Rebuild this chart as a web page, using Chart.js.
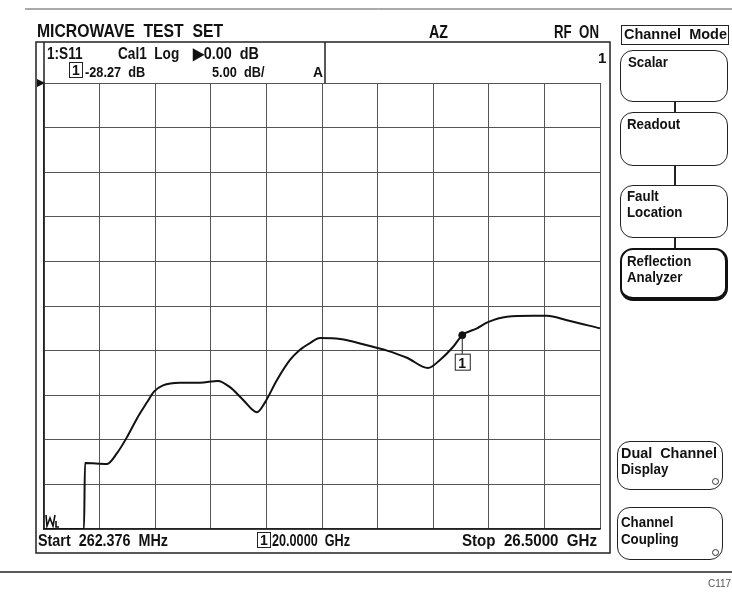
<!DOCTYPE html>
<html>
<head>
<meta charset="utf-8">
<script src="https://cdn.jsdelivr.net/npm/chart.js@4.4.1/dist/chart.umd.min.js"></script>
<style>
  html, body { margin: 0; padding: 0; background: #fff; }
  #wrap { position: relative; width: 732px; height: 592px; overflow: hidden; }
  #wrap canvas { position: absolute; left: 0; top: 0; }
  .t { position: absolute; white-space: pre; font-family: 'Liberation Sans', Arial, sans-serif;
       font-weight: bold; line-height: 1; color: #111; transform-origin: 0 0; }
  .box { border: 1px solid #222; padding: 0 2px; }
  .btn { position: absolute; box-sizing: border-box; border: 1.5px solid #222; border-radius: 13px; }
  .sel { border-width: 2px 3.5px 4.5px 2px; border-color: #111; }
  .lamp { position: absolute; width: 5px; height: 5px; border: 1px solid #333; border-radius: 50%; }
  .conn { position: absolute; width: 1.5px; background: #222; }
</style>
</head>
<body>
<div id="wrap">
  <canvas id="screen" width="732" height="592"></canvas>
</div>
<script>
// trace: frequency (GHz) and S11 (dB)
const freqGHz = [0.262, 2.150, 2.197, 3.235, 3.707, 4.179, 4.651, 5.123, 5.453, 5.878,
  6.680, 7.624, 8.473, 9.039, 9.653, 10.314, 10.691, 11.257, 11.871, 12.343,
  12.815, 13.287, 14.230, 15.504, 16.448, 17.392, 18.383, 18.949, 19.563, 20.000,
  20.695, 21.214, 22.111, 23.338, 23.999, 24.943, 26.500];
const s11dB = [-50, -50, -42.6, -42.7, -41.5, -39.7, -37.6, -35.8, -34.6, -33.9,
  -33.6, -33.6, -33.4, -34.1, -35.5, -36.9, -35.8, -33.3, -31.05, -29.9,
  -29.15, -28.6, -28.7, -29.4, -30.0, -30.8, -31.95, -31.05, -29.6, -28.27,
  -27.5, -26.8, -26.2, -26.1, -26.1, -26.6, -27.5];
const markerFreq = [20.0];
const markerDb = [-28.27];
const startGHz = 0.262376;
const stopGHz = 26.5;
const refDb = 0;
const dbPerDiv = 5;
const divisions = 10;

const wrap = document.getElementById('wrap');

// text helper: x, cap top, font size, width to fit (or a plain x-scale when < 2)
function addText(str, x, capTop, size, width, cls) {
  const el = document.createElement('div');
  el.className = 't' + (cls ? ' ' + cls : '');
  el.textContent = str;
  el.style.left = x + 'px';
  el.style.top = (capTop - 0.13 * size - (cls ? 1 : 0)) + 'px';
  el.style.fontSize = size + 'px';
  wrap.appendChild(el);
  if (width) {
    const k = width < 2 ? width : width / el.getBoundingClientRect().width;
    el.style.transform = 'scaleX(' + k + ')';
  }
  return el;
}

function addBox(cls, x, y, w, h) {
  const el = document.createElement('div');
  el.className = cls;
  el.style.left = x + 'px';
  el.style.top = y + 'px';
  if (w) el.style.width = w + 'px';
  if (h) el.style.height = h + 'px';
  wrap.appendChild(el);
  return el;
}

// marker label, moved into place by the plugin
const markLabel = addText('1', 0, 0, 14, 0);

// frame around the display, drawn under the chart
const framePlugin = {
  id: 'frame',
  beforeDraw(chart) {
    const c = chart.ctx;
    c.save();
    c.fillStyle = '#fff';
    c.fillRect(0, 0, chart.width, chart.height);
    c.strokeStyle = '#555';
    c.lineWidth = 1;
    // page rules
    c.beginPath();
    c.moveTo(25, 9); c.lineTo(732, 9);
    c.stroke();
    c.strokeStyle = '#222';
    c.lineWidth = 1.5;
    c.beginPath();
    c.moveTo(0, 572); c.lineTo(732, 572);
    c.stroke();
    // outer frame
    c.strokeRect(36, 42, 574, 511);
    // header box
    const a = chart.chartArea;
    c.beginPath();
    c.moveTo(a.left, 42); c.lineTo(a.left, a.top);
    c.moveTo(325, 42); c.lineTo(325, a.top);
    c.stroke();
    // reference level pointer
    c.fillStyle = '#111';
    c.beginPath();
    c.moveTo(37, a.top - 4); c.lineTo(45, a.top); c.lineTo(37, a.top + 4);
    c.closePath();
    c.fill();
    c.restore();
  },
  afterDatasetsDraw(chart) {
    const c = chart.ctx;
    const px = chart.scales.x.getPixelForValue(markerFreq[0]);
    const py = chart.scales.y.getPixelForValue(markerDb[0]);
    c.save();
    c.strokeStyle = '#222';
    c.lineWidth = 1;
    c.beginPath();
    c.moveTo(px, py); c.lineTo(px, py + 19);
    c.stroke();
    c.fillStyle = '#fff';
    c.fillRect(px - 7, py + 19, 15, 16);
    c.strokeRect(px - 7, py + 19, 15, 16);
    // little trace symbol in the lower left corner
    c.lineWidth = 1.6;
    c.strokeStyle = '#111';
    c.beginPath();
    c.moveTo(46, 515); c.lineTo(47, 526); c.lineTo(50, 518); c.lineTo(53, 526);
    c.lineTo(55, 515);
    c.moveTo(56, 521); c.lineTo(56, 527); c.lineTo(59, 527);
    c.stroke();
    c.restore();
    markLabel.style.left = (px - 4) + 'px';
    markLabel.style.top = (py + 21) + 'px';
  }
};

// screen annotations
addText('MICROWAVE  TEST  SET', 37, 24, 18, 186);
addText('AZ', 429, 25, 18, 19);
addText('RF  ON', 554, 25, 18, 45);
addText('1', 598, 52, 15, 0);
addText('1:S11', 47, 48, 16, 0.85);
addText('Cal1  Log', 118, 48, 16, 0.85);
addText('\u25B60.00  dB', 193, 48, 16, 0.9);
addText('1', 69, 65, 14, 0, 'box');
addText('-28.27  dB', 85, 66, 15, 0.85);
addText('5.00  dB/', 212, 66, 15, 0.85);
addText('A', 313, 66, 15, 10);
addText('Start  262.376  MHz', 38, 535, 16, 130);
addText('1', 257, 535, 14, 0, 'box');
addText('20.0000  GHz', 272, 535, 16, 78);
addText('Stop  26.5000  GHz', 462, 535, 16, 135);

// soft key panel
addBox('btn', 621, 25, 108, 20).style.borderRadius = '0';
addText('Channel  Mode', 624, 29, 14, 103);
addBox('btn', 620, 50, 108, 52);
addText('Scalar', 628, 57, 14, 0.95);
addBox('conn', 674, 102, 0, 10);
addBox('btn', 620, 112, 108, 54);
addText('Readout', 627, 119, 14, 0.95);
addBox('conn', 674, 166, 0, 19);
addBox('btn', 620, 185, 108, 53);
addText('Fault', 627, 191, 14, 0.95);
addText('Location', 627, 207, 14, 0.95);
addBox('conn', 674, 238, 0, 10);
addBox('btn sel', 620, 248, 108, 53);
addText('Reflection', 627, 256, 14, 0.95);
addText('Analyzer', 627, 272, 14, 0.95);
addBox('btn', 617, 441, 106, 49);
addText('Dual  Channel', 621, 448, 14, 96);
addText('Display', 621, 464, 14, 0.95);
addBox('lamp', 712, 478);
addBox('btn', 617, 507, 106, 53);
addText('Channel', 621, 517, 14, 0.95);
addText('Coupling', 621, 534, 14, 0.95);
addBox('lamp', 712, 549);
const code = addText('C117', 708, 580, 10, 0);
code.style.fontWeight = 'normal';
code.style.color = '#555';

const gridStyle = { color: '#555', lineWidth: 1, drawTicks: false };

new Chart(document.getElementById('screen'), {
  type: 'line',
  data: {
    datasets: [{
      data: freqGHz.map((f, i) => ({ x: f, y: s11dB[i] })),
      borderColor: '#111',
      borderWidth: 2,
      pointRadius: 0,
      cubicInterpolationMode: 'monotone',
      fill: false
    }, {
      data: markerFreq.map((f, i) => ({ x: f, y: markerDb[i] })),
      showLine: false,
      pointRadius: 3.5,
      pointBackgroundColor: '#111',
      pointBorderColor: '#111'
    }]
  },
  options: {
    responsive: false,
    animation: false,
    devicePixelRatio: 1,
    layout: { padding: { left: 44, top: 83, right: 132, bottom: 63 } },
    plugins: { legend: { display: false }, tooltip: { enabled: false } },
    scales: {
      x: {
        type: 'linear', min: startGHz, max: stopGHz,
        afterBuildTicks: s => {
          s.ticks = Array.from({ length: divisions + 1 },
            (_, i) => ({ value: startGHz + i * (stopGHz - startGHz) / divisions }));
        },
        ticks: { display: false },
        grid: gridStyle,
        border: { color: '#222', width: 1.5 }
      },
      y: {
        min: refDb - dbPerDiv * divisions, max: refDb,
        ticks: { display: false, stepSize: dbPerDiv },
        grid: gridStyle,
        border: { color: '#222', width: 1.5 }
      }
    }
  },
  plugins: [framePlugin]
});
</script>
</body>
</html>
